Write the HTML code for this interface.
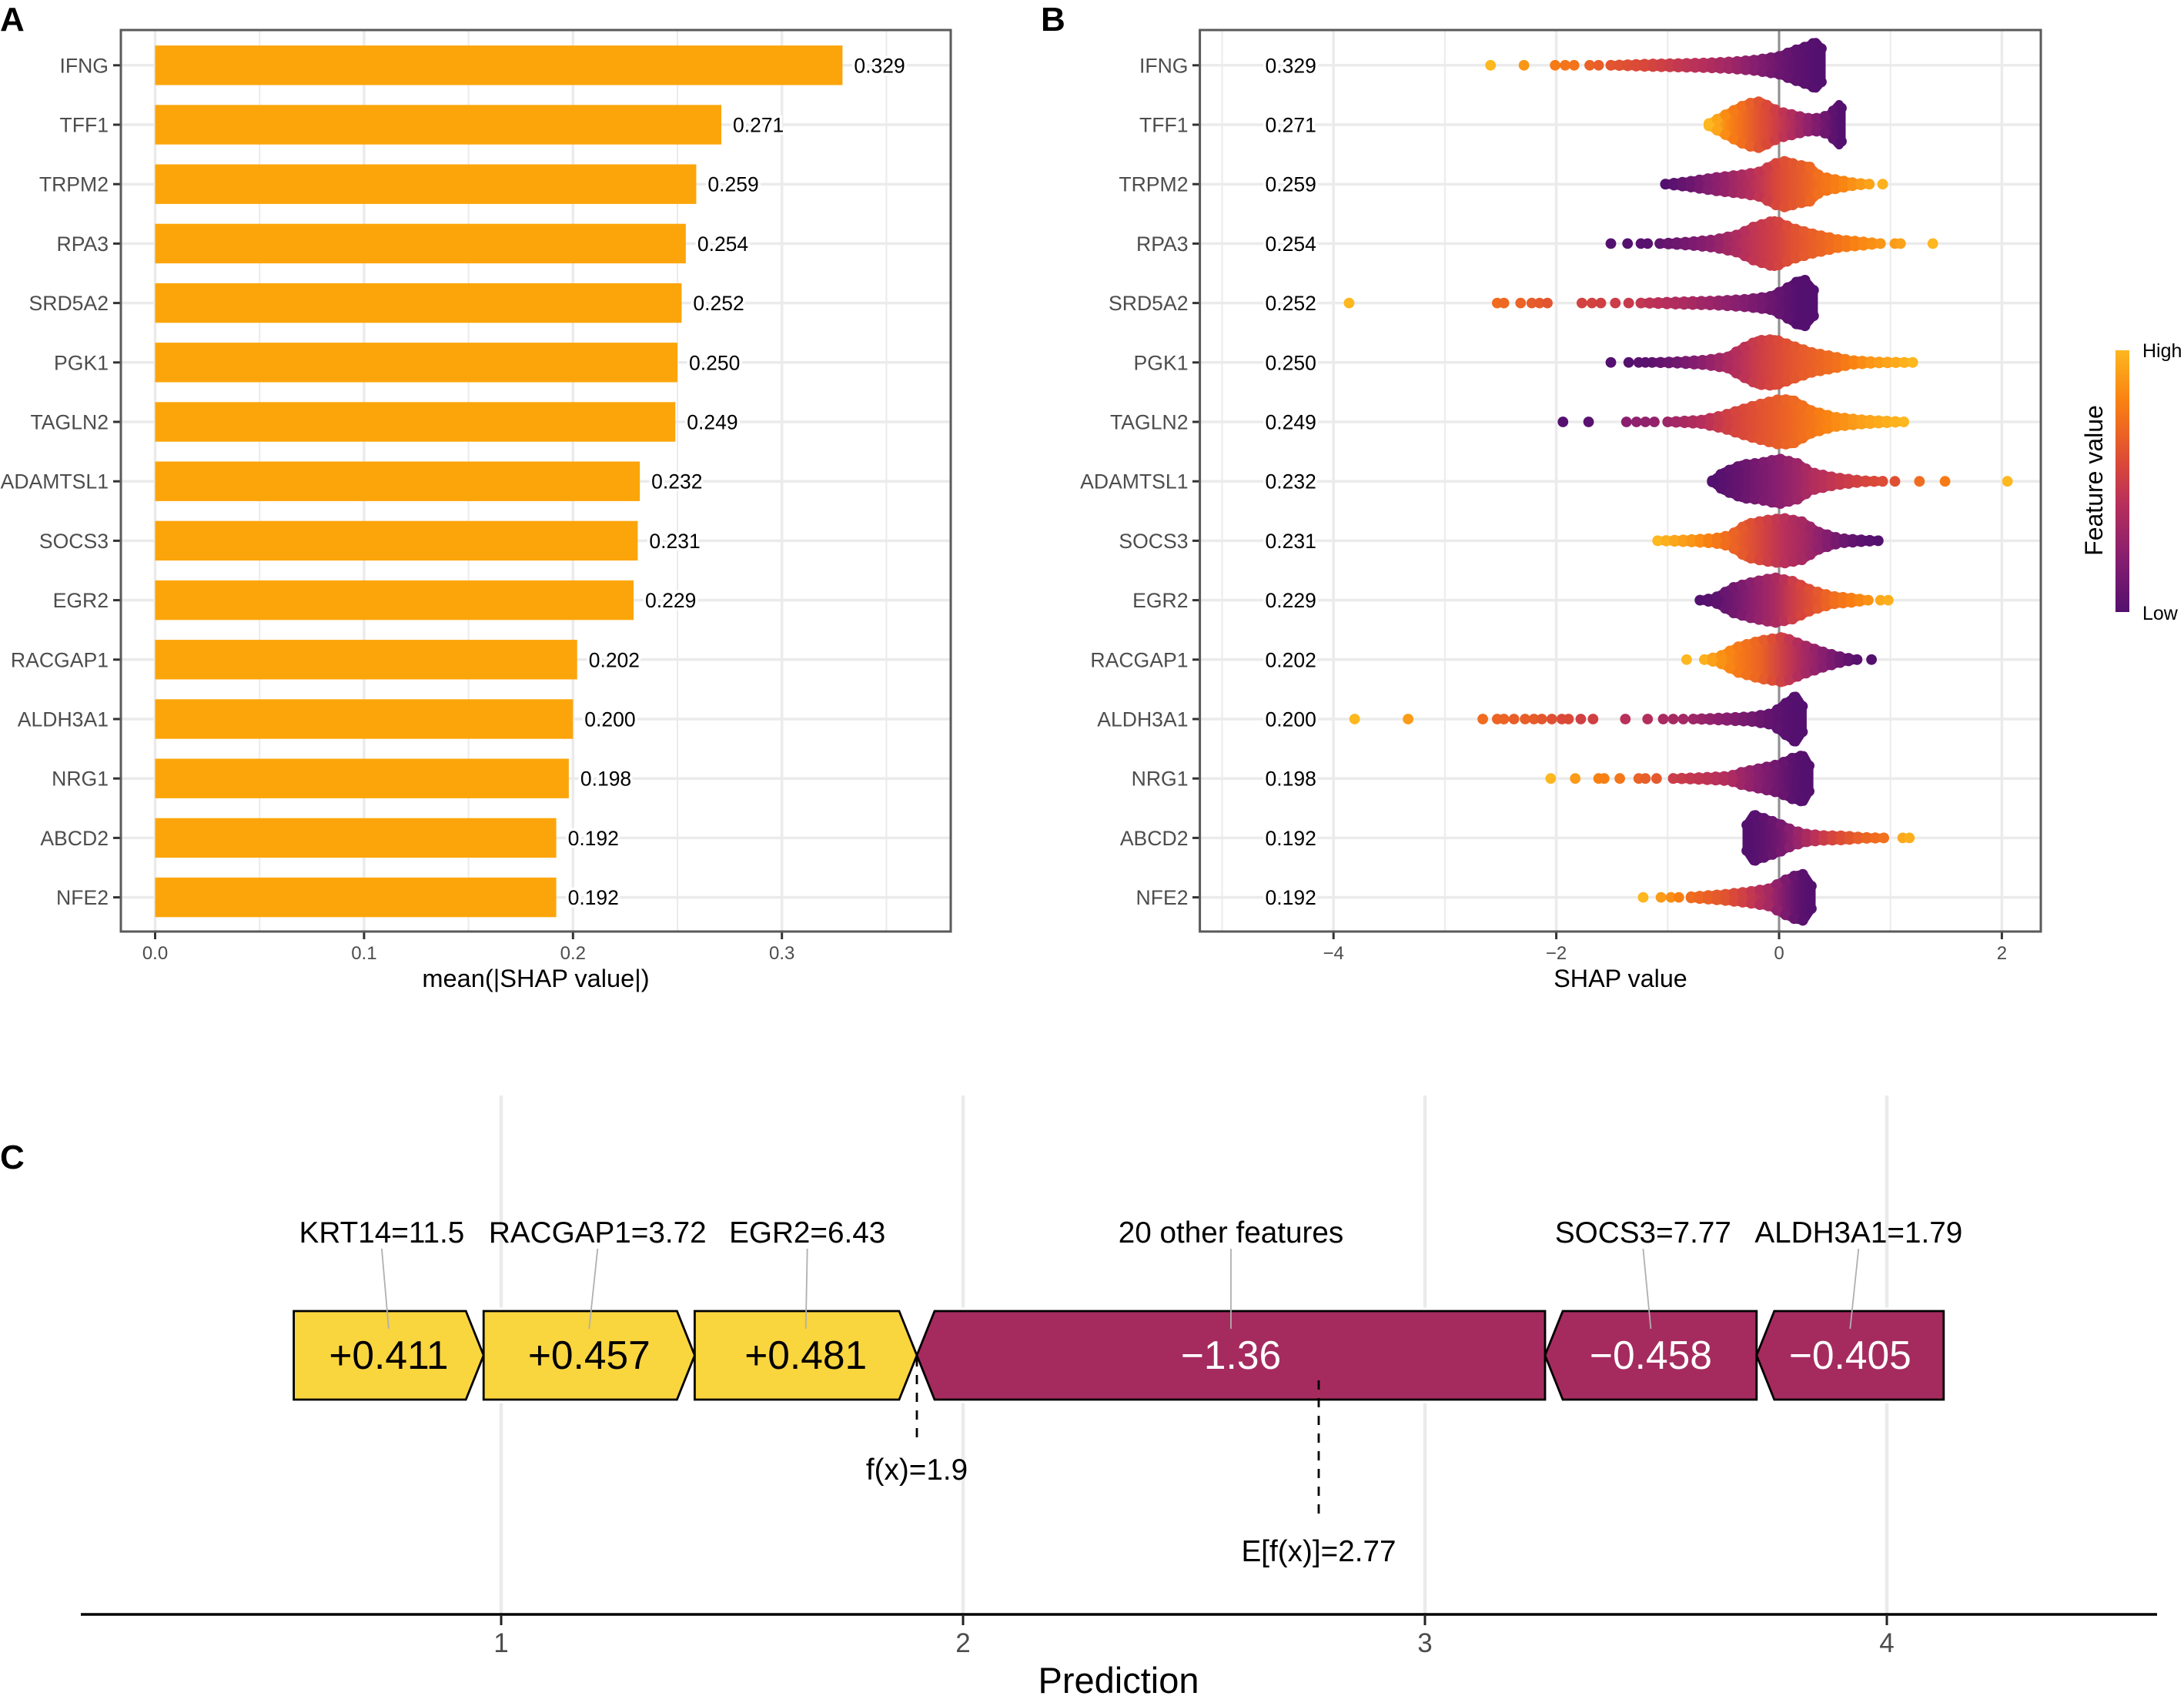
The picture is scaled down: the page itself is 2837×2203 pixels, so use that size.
<!DOCTYPE html>
<html lang="en">
<head>
<meta charset="utf-8">
<title>SHAP summary charts</title>
<style>
html,body{margin:0;padding:0;background:#fff;}
svg{display:block;}
text{font-family:"Liberation Sans",sans-serif;}
</style>
</head>
<body>
<svg id="figure" xmlns="http://www.w3.org/2000/svg" width="2837" height="2203" viewBox="0 0 2837 2203">
  <defs id="defs"></defs>
  <rect x="0" y="0" width="2837" height="2203" fill="#ffffff"/>

  <text x="0" y="40" font-size="44" font-weight="bold" fill="#000">A</text>
  <text x="1352" y="40" font-size="44" font-weight="bold" fill="#000">B</text>
  <text x="0" y="1518" font-size="44" font-weight="bold" fill="#000">C</text>

  <g id="panelA"></g>
  <text x="696" y="1282" font-size="32.6" fill="#000" text-anchor="middle">mean(|SHAP value|)</text>

  <g id="panelB"></g>
  <text x="2105" y="1282" font-size="32.3" fill="#000" text-anchor="middle">SHAP value</text>

  <g id="legend">
    <rect id="colorbar" x="2748" y="455" width="18" height="340"/>
    <text x="2783" y="464" font-size="25" fill="#000">High</text>
    <text x="2783" y="805" font-size="25" fill="#000">Low</text>
    <text transform="translate(2731,624) rotate(-90)" font-size="32" fill="#000" text-anchor="middle">Feature value</text>
  </g>

  <g id="panelC"></g>
  <text x="1453" y="2199" font-size="47" fill="#000" text-anchor="middle">Prediction</text>
</svg>

<script>
// ---------- shared data ----------
const genes = ["IFNG","TFF1","TRPM2","RPA3","SRD5A2","PGK1","TAGLN2","ADAMTSL1","SOCS3","EGR2","RACGAP1","ALDH3A1","NRG1","ABCD2","NFE2"];
const meanShap = [0.329,0.271,0.259,0.254,0.252,0.250,0.249,0.232,0.231,0.229,0.202,0.200,0.198,0.192,0.192];
const barTicks = [0,0.1,0.2,0.3];
const barTickLabels = ["0.0","0.1","0.2","0.3"];
const barGridMinor = [0.05,0.15,0.25,0.35];
const swarmTicks = [-4,-2,0,2];
const swarmTickLabels = ["\u22124","\u22122","0","2"];
const swarmGridMinor = [-5,-3,-1,1];

// Swarm envelope for each gene: SHAP value, half-height (share of a row), feature value (0 low .. 1 high)
const swarmShap = [
 [-1.51,-1.20,-0.91,-0.66,-0.41,-0.21,0,0.12,0.25,0.33,0.38],
 [-0.63,-0.54,-0.46,-0.35,-0.25,-0.17,-0.08,0,0.12,0.25,0.37,0.46,0.54,0.56],
 [-1.02,-0.79,-0.58,-0.33,-0.17,-0.04,0.06,0.17,0.27,0.37,0.54,0.68,0.81],
 [-1.07,-0.79,-0.58,-0.37,-0.23,-0.04,0.12,0.29,0.54,0.75,0.91],
 [-1.24,-0.91,-0.58,-0.29,-0.08,0.04,0.17,0.23,0.31],
 [-1.14,-0.91,-0.66,-0.46,-0.33,-0.19,-0.04,0.12,0.29,0.50,0.64,0.87,1.20],
 [-1.0,-0.70,-0.50,-0.37,-0.21,0,0.12,0.29,0.50,0.75,1.12],
 [-0.60,-0.50,-0.33,-0.17,0,0.17,0.29,0.50,0.75,0.93],
 [-1.09,-0.79,-0.58,-0.44,-0.29,-0.12,0.04,0.21,0.35,0.54,0.70,0.89],
 [-0.71,-0.58,-0.41,-0.25,-0.04,0.12,0.29,0.48,0.66,0.80],
 [-0.67,-0.54,-0.37,-0.17,0.04,0.21,0.41,0.58,0.70],
 [-0.77,-0.50,-0.25,-0.06,0.04,0.15,0.21],
 [-0.95,-0.66,-0.44,-0.33,-0.17,0,0.12,0.22,0.27],
 [-0.29,-0.23,-0.12,0,0.12,0.25,0.41,0.58,0.75,0.94],
 [-0.79,-0.50,-0.29,-0.08,0.04,0.15,0.22,0.29]
];
const swarmSpread = [
 [0,0.02,0.03,0.04,0.06,0.09,0.15,0.24,0.32,0.39,0.28],
 [0.02,0.11,0.19,0.30,0.37,0.39,0.30,0.22,0.17,0.11,0.11,0.18,0.345,0.28],
 [0,0.05,0.11,0.16,0.21,0.345,0.39,0.32,0.30,0.13,0.065,0.02,0],
 [0,0.03,0.065,0.15,0.28,0.39,0.26,0.17,0.065,0.03,0],
 [0,0.02,0.035,0.065,0.11,0.215,0.37,0.39,0.215],
 [0,0.013,0.04,0.095,0.24,0.37,0.39,0.28,0.17,0.095,0.035,0.01,0],
 [0,0.03,0.11,0.19,0.28,0.38,0.37,0.19,0.08,0.035,0],
 [0.01,0.15,0.28,0.31,0.38,0.30,0.15,0.065,0.01,0],
 [0,0.02,0.04,0.09,0.28,0.345,0.38,0.32,0.15,0.04,0.02,0],
 [0,0.035,0.215,0.30,0.38,0.32,0.17,0.065,0.035,0],
 [0,0.05,0.215,0.32,0.38,0.25,0.12,0.035,0],
 [0,0.02,0.04,0.095,0.24,0.39,0.215],
 [0,0.02,0.04,0.11,0.17,0.24,0.345,0.39,0.215],
 [0.215,0.39,0.32,0.24,0.13,0.065,0.04,0.035,0.01,0],
 [0.01,0.05,0.09,0.15,0.28,0.37,0.39,0.19]
];
const swarmFeature = [
 [0.62,0.56,0.47,0.40,0.30,0.20,0.10,0.05,0.02,0,0],
 [1,0.92,0.82,0.74,0.66,0.60,0.55,0.48,0.38,0.25,0.15,0.06,0,0],
 [0,0.10,0.22,0.36,0.46,0.55,0.60,0.64,0.69,0.74,0.80,0.87,0.93],
 [0.05,0.15,0.25,0.38,0.45,0.52,0.60,0.66,0.75,0.83,0.88],
 [0.46,0.38,0.28,0.18,0.10,0.05,0,0,0],
 [0.05,0.12,0.24,0.36,0.43,0.50,0.56,0.62,0.67,0.73,0.80,0.90,1],
 [0.30,0.40,0.50,0.55,0.60,0.66,0.70,0.76,0.84,0.92,1],
 [0,0.02,0.08,0.15,0.22,0.30,0.38,0.46,0.54,0.58],
 [1,0.88,0.78,0.70,0.62,0.52,0.42,0.34,0.25,0.12,0.04,0],
 [0,0.03,0.12,0.22,0.35,0.50,0.60,0.72,0.80,0.86],
 [0.97,0.88,0.78,0.68,0.50,0.35,0.20,0.08,0.02],
 [0.30,0.22,0.12,0.05,0.02,0,0],
 [0.50,0.44,0.38,0.30,0.20,0.10,0.03,0,0],
 [0,0.01,0.05,0.12,0.24,0.36,0.50,0.60,0.68,0.74],
 [0.72,0.62,0.50,0.32,0.18,0.06,0.02,0]
];
// Separately visible dots beyond each envelope
const outlierShap = [
 [-2.59,-2.29,-2.01,-1.92,-1.84,-1.70,-1.62],
 [],
 [0.93],
 [-1.51,-1.36,-1.24,-1.18,1.04,1.09,1.38],
 [-3.86,-2.53,-2.47,-2.32,-2.22,-2.15,-2.08,-1.77,-1.68,-1.60,-1.47,-1.35],
 [-1.51,-1.35,-1.26,-1.20],
 [-1.94,-1.71,-1.37,-1.28,-1.20,-1.12],
 [1.04,1.26,1.49,2.05],
 [],
 [0.91,0.98],
 [-0.83,0.83],
 [-3.81,-3.33,-2.66,-2.53,-2.47,-2.38,-2.28,-2.20,-2.13,-2.04,-1.95,-1.89,-1.78,-1.67,-1.38,-1.18,-1.04,-0.95,-0.86],
 [-2.05,-1.83,-1.62,-1.57,-1.43,-1.26,-1.20,-1.10],
 [1.11,1.17],
 [-1.22,-1.06,-0.97,-0.90]
];
const outlierFeature = [
 [1,0.88,0.78,0.75,0.75,0.68,0.66],
 [],
 [0.98],
 [0,0,0.02,0.02,0.90,0.92,1],
 [1,0.72,0.70,0.68,0.65,0.64,0.62,0.53,0.53,0.52,0.50,0.48],
 [0,0,0.03,0.03],
 [0,0.02,0.22,0.24,0.25,0.26],
 [0.60,0.72,0.78,1],
 [],
 [0.95,0.97],
 [1,0],
 [1,0.90,0.72,0.68,0.68,0.66,0.66,0.65,0.63,0.60,0.57,0.57,0.52,0.52,0.42,0.40,0.35,0.34,0.33],
 [1,0.90,0.80,0.80,0.76,0.68,0.66,0.64],
 [0.95,0.97],
 [1,0.90,0.85,0.80]
];
// Force plot
const forceLabels = ["EGR2=6.43","RACGAP1=3.72","KRT14=11.5","20 other features","SOCS3=7.77","ALDH3A1=1.79"];
const forceContrib = [0.481,0.457,0.411,-1.36,-0.458,-0.405];
const forceText = ["+0.481","+0.457","+0.411","\u22121.36","\u22120.458","\u22120.405"];
const forceLabelNudge = [2,11,-9,0,-10,11];
const fxValue = 1.9;
const expectedValue = 2.77;
const predictionTicks = [1,2,3,4];

// ---------- helpers ----------
const NS = "http://www.w3.org/2000/svg";
function add(parent, tag, attrs, content) {
  const el = document.createElementNS(NS, tag);
  for (const k in attrs) el.setAttribute(k, attrs[k]);
  if (content !== undefined) el.textContent = content;
  parent.appendChild(el);
  return el;
}
const paletteStops = [0,0.22,0.42,0.56,0.71,0.81,1];
const paletteRgb = [[84,16,111],[138,31,111],[185,48,90],[217,71,58],[239,106,32],[249,130,18],[253,183,31]];
function featureColor(v) {
  let i = 0;
  while (i < paletteStops.length - 2 && v > paletteStops[i + 1]) i++;
  const t = Math.max(0, Math.min(1, (v - paletteStops[i]) / (paletteStops[i + 1] - paletteStops[i])));
  const c = paletteRgb[i].map((a, k) => Math.round(a + (paletteRgb[i + 1][k] - a) * t));
  return "rgb(" + c.join(",") + ")";
}
function lerpAt(xs, ys, x) {
  let k = 0;
  while (k < xs.length - 2 && x > xs[k + 1]) k++;
  const t = (x - xs[k]) / (xs[k + 1] - xs[k]);
  return ys[k] + (ys[k + 1] - ys[k]) * Math.max(0, Math.min(1, t));
}
const TOP = 39, BOTTOM = 1210, ROW0 = 84.8, STEP = 77.2;
const yRow = i => ROW0 + STEP * i;
const xBar = v => 201.5 + 2714 * v;
const xSwarm = v => 2311 + 144.7 * v;
const xPred = v => 51 + 600 * v;
const defs = document.getElementById("defs");
const GRID = "#ebebeb";
const TICK = "#4d4d4d";

// ---------- Panel A ----------
const panelA = document.getElementById("panelA");
const aL = 157, aR = 1235;
barGridMinor.forEach(v => {
  const g = add(panelA, "line", {x1:xBar(v), x2:xBar(v), y1:TOP, y2:BOTTOM, stroke:GRID, "stroke-width":2});
  
  
});
barTicks.forEach(v => {
  const g = add(panelA, "line", {x1:xBar(v), x2:xBar(v), y1:TOP, y2:BOTTOM, stroke:GRID, "stroke-width":3.5});
  
  
});
genes.forEach((gene, i) => {
  const y = yRow(i);
  const g = add(panelA, "line", {x1:aL, x2:aR, y1:y, y2:y, stroke:GRID, "stroke-width":3.5});
  
  
});
genes.forEach((gene, i) => {
  const y = yRow(i), key = gene.toLowerCase();
  const bar = add(panelA, "rect", {x:xBar(0), y:y - 25.7, width:xBar(meanShap[i]) - xBar(0), height:51.4, fill:"#fca50a"});
  
  
  const val = add(panelA, "text", {x:xBar(meanShap[i]) + 15, y:y + 9.5, "font-size":26.5, fill:"#000", stroke:"#fff", "stroke-width":7, "paint-order":"stroke"}, meanShap[i].toFixed(3));
  
  
  const tick = add(panelA, "line", {x1:147, x2:aL, y1:y, y2:y, stroke:"#333", "stroke-width":3});
  
  
  const lab = add(panelA, "text", {x:141, y:y + 9.5, "font-size":26.6, fill:TICK, "text-anchor":"end"}, gene);
  
  
});
barTicks.forEach((v, i) => {
  const tick = add(panelA, "line", {x1:xBar(v), x2:xBar(v), y1:BOTTOM, y2:BOTTOM + 10, stroke:"#333", "stroke-width":3});
  
  
  const lab = add(panelA, "text", {x:xBar(v), y:1246, "font-size":24, fill:TICK, "text-anchor":"middle"}, barTickLabels[i]);
  
  
});
const frameA = add(panelA, "rect", {x:aL, y:TOP, width:aR - aL, height:BOTTOM - TOP, fill:"none", stroke:"#5a5a5a", "stroke-width":3});



// ---------- Panel B ----------
const panelB = document.getElementById("panelB");
const bL = 1558.6, bR = 2651;
const EDGE_GAP = 11;
swarmGridMinor.forEach(v => {
  const g = add(panelB, "line", {x1:xSwarm(v), x2:xSwarm(v), y1:TOP, y2:BOTTOM, stroke:GRID, "stroke-width":2});
  
  
});
swarmTicks.forEach(v => {
  const g = add(panelB, "line", {x1:xSwarm(v), x2:xSwarm(v), y1:TOP, y2:BOTTOM, stroke:GRID, "stroke-width":3.5});
  
  
});
genes.forEach((gene, i) => {
  const y = yRow(i);
  const g = add(panelB, "line", {x1:bL, x2:bR, y1:y, y2:y, stroke:GRID, "stroke-width":3.5});
  
  
});
const zeroLine = add(panelB, "line", {x1:xSwarm(0), x2:xSwarm(0), y1:TOP, y2:BOTTOM, stroke:"#8f8f8f", "stroke-width":3});


genes.forEach((gene, i) => {
  const y = yRow(i), key = gene.toLowerCase();
  const xs = swarmShap[i], hs = swarmSpread[i], fs = swarmFeature[i];
  const grad = add(defs, "linearGradient", {id:"swarm-grad-" + i, gradientUnits:"userSpaceOnUse", x1:xSwarm(xs[0]), x2:xSwarm(xs[xs.length - 1]), y1:0, y2:0});
  const span = xs[xs.length - 1] - xs[0];
  xs.forEach((v, k) => add(grad, "stop", {offset:(v - xs[0]) / span, "stop-color":featureColor(fs[k])}));
  const upper = xs.map((v, k) => xSwarm(v).toFixed(1) + "," + (y - hs[k] * STEP).toFixed(1));
  const lower = xs.map((v, k) => xSwarm(v).toFixed(1) + "," + (y + hs[k] * STEP).toFixed(1)).reverse();
  const body = add(panelB, "polygon", {points:upper.concat(lower).join(" "), fill:"url(#swarm-grad-" + i + ")", stroke:"url(#swarm-grad-" + i + ")", "stroke-width":11, "stroke-linejoin":"round"});
  
  
  // scalloped rim of dots following the envelope
  const x0 = xSwarm(xs[0]), x1 = xSwarm(xs[xs.length - 1]);
  const count = Math.max(1, Math.round((x1 - x0) / EDGE_GAP));
  for (let n = 0; n <= count; n++) {
    const v = xs[0] + span * n / count;
    const half = lerpAt(xs, hs, v) * STEP;
    const fill = featureColor(lerpAt(xs, fs, v));
    [-1, 1].forEach(side => {
      const rim = add(panelB, "circle", {cx:xSwarm(v), cy:y + side * half, r:6.9, fill:fill});
      
      
    });
  }
  outlierShap[i].forEach((v, k) => {
    const dot = add(panelB, "circle", {cx:xSwarm(v), cy:y, r:6.9, fill:featureColor(outlierFeature[i][k])});
    
    
  });
  const val = add(panelB, "text", {x:1643.5, y:y + 9.5, "font-size":26.5, fill:"#000", stroke:"#fff", "stroke-width":7, "paint-order":"stroke"}, meanShap[i].toFixed(3));
  
  
  const tick = add(panelB, "line", {x1:1549, x2:bL, y1:y, y2:y, stroke:"#333", "stroke-width":3});
  
  
  const lab = add(panelB, "text", {x:1543.5, y:y + 9.5, "font-size":26.6, fill:TICK, "text-anchor":"end"}, gene);
  
  
});
swarmTicks.forEach((v, i) => {
  const tick = add(panelB, "line", {x1:xSwarm(v), x2:xSwarm(v), y1:BOTTOM, y2:BOTTOM + 10, stroke:"#333", "stroke-width":3});
  
  
  const lab = add(panelB, "text", {x:xSwarm(v), y:1246, "font-size":24, fill:TICK, "text-anchor":"middle"}, swarmTickLabels[i]);
  
  
});
const frameB = add(panelB, "rect", {x:bL, y:TOP, width:bR - bL, height:BOTTOM - TOP, fill:"none", stroke:"#5a5a5a", "stroke-width":3});



// ---------- Colorbar ----------
const cbGrad = add(defs, "linearGradient", {id:"colorbar-grad", x1:0, x2:0, y1:1, y2:0});
paletteStops.forEach(s => add(cbGrad, "stop", {offset:s, "stop-color":featureColor(s)}));
document.getElementById("colorbar").setAttribute("fill", "url(#colorbar-grad)");

// ---------- Panel C ----------
const panelC = document.getElementById("panelC");
const boxTop = 1703, boxBot = 1818, boxMid = 1760.5, HEAD = 23;
predictionTicks.forEach(v => {
  const g = add(panelC, "line", {x1:xPred(v), x2:xPred(v), y1:1423, y2:2097, stroke:"#ebebeb", "stroke-width":4.5});
  
  
});
const axisC = add(panelC, "line", {x1:105, x2:2802, y1:2097, y2:2097, stroke:"#000", "stroke-width":3.5});


predictionTicks.forEach(v => {
  const tick = add(panelC, "line", {x1:xPred(v), x2:xPred(v), y1:2097, y2:2111, stroke:"#222", "stroke-width":3});
  
  
  const lab = add(panelC, "text", {x:xPred(v), y:2146, "font-size":35, fill:TICK, "text-anchor":"middle"}, String(v));
  
  
});
// stack contributions outward from f(x)
const forceSegments = [];
let posEdge = fxValue, negEdge = fxValue;
forceContrib.forEach((c, i) => {
  if (c > 0) {
    forceSegments.push({i:i, from:posEdge - c, to:posEdge, up:true});
    posEdge -= c;
  } else {
    forceSegments.push({i:i, from:negEdge, to:negEdge - c, up:false});
    negEdge -= c;
  }
});
function arrowPoints(s) {
  const a = xPred(s.from), b = xPred(s.to);
  if (s.up) {
    return [[a,boxTop],[b - HEAD,boxTop],[b,boxMid],[b - HEAD,boxBot],[a,boxBot]];
  }
  return [[a + HEAD,boxTop],[b,boxTop],[b,boxBot],[a + HEAD,boxBot],[a,boxMid]];
}
forceSegments.forEach(s => {
  const pts = arrowPoints(s).map(p => p.join(",")).join(" ");
  const halo = add(panelC, "polygon", {points:pts, fill:"#fff", stroke:"#fff", "stroke-width":9});
  
  
});
forceSegments.forEach(s => {
  const pts = arrowPoints(s).map(p => p.join(",")).join(" ");
  const arrow = add(panelC, "polygon", {points:pts, fill:s.up ? "#f9d53e" : "#a52b5f", stroke:"#000", "stroke-width":2.8, "stroke-linejoin":"miter"});
  
  
});
forceSegments.forEach(s => {
  const mid = xPred((s.from + s.to) / 2);
  const lx = mid + forceLabelNudge[s.i];
  const conn = add(panelC, "line", {x1:lx, x2:mid, y1:1622, y2:1726, stroke:"#b0b0b0", "stroke-width":1.8});
  
  
  const lab = add(panelC, "text", {x:lx, y:1614, "font-size":38.7, fill:"#000", "text-anchor":"middle"}, forceLabels[s.i]);
  
  
  const val = add(panelC, "text", {x:mid, y:1778, "font-size":51.5, fill:s.up ? "#000" : "#fff", "text-anchor":"middle"}, forceText[s.i]);
  
  
});
const fxLine = add(panelC, "line", {x1:xPred(fxValue), x2:xPred(fxValue), y1:1763, y2:1867, stroke:"#000", "stroke-width":2.8, "stroke-dasharray":"12 11"});


const fxLab = add(panelC, "text", {x:xPred(fxValue), y:1922, "font-size":38.7, fill:"#000", "text-anchor":"middle"}, "f(x)=" + fxValue);


const exLine = add(panelC, "line", {x1:xPred(expectedValue), x2:xPred(expectedValue), y1:1793, y2:1975, stroke:"#000", "stroke-width":2.8, "stroke-dasharray":"12 11"});


const exLab = add(panelC, "text", {x:xPred(expectedValue), y:2028, "font-size":38.7, fill:"#000", "text-anchor":"middle"}, "E[f(x)]=" + expectedValue);


</script>
</body>
</html>
